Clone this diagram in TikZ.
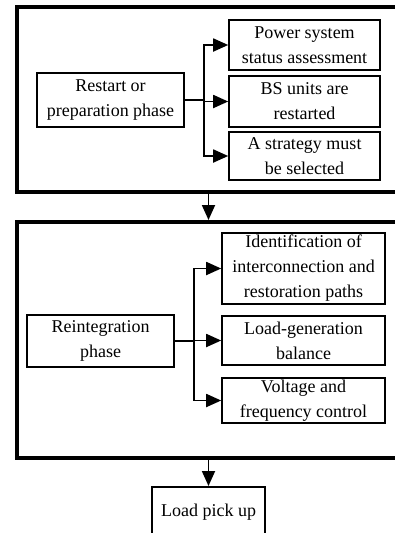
\documentclass[tikz,border=0pt]{standalone}
\usepackage{fontspec}
\setmainfont{Liberation Serif}
\usetikzlibrary{arrows.meta,positioning,calc}

\begin{document}
\begin{tikzpicture}[x=1pt, y=1pt,
    box/.style={draw, line width=1.6pt, inner sep=0pt, align=center,
        font=\fontsize{18}{25}\selectfont},
    frame/.style={draw, line width=3.6pt, inner sep=0pt},
    arr/.style={line width=1.8pt, -{Triangle[length=15pt, width=13pt]}},
    link/.style={line width=1.8pt}]
    \useasboundingbox (0,0) rectangle (395,-533);
    \clip (0,0) rectangle (395,-533);

    % Phase frames
    \node[frame, minimum width=395, minimum height=185, anchor=north west] (stageone) at (15,-5) {};
    \node[frame, minimum width=395, minimum height=236, anchor=north west] (stagetwo) at (15,-220) {};

    % Restart or preparation phase
    \node[box, minimum width=147, minimum height=54] (restart) at (110.5,-100) {Restart or\\preparation phase};
    \node[box, minimum width=151, minimum height=50] (assess) at (304.5,-45) {Power system\\status assessment};
    \node[box, minimum width=151, minimum height=51] (units) at (304.5,-101.5) {BS units are\\restarted};
    \node[box, minimum width=151, minimum height=48] (strategy) at (304.5,-156) {A strategy must\\be selected};

    % Reintegration phase
    \node[box, minimum width=147, minimum height=52] (reint) at (100.5,-341) {Reintegration\\phase};
    \node[box, minimum width=163, minimum height=71] (paths) at (303.5,-268.5) {Identification of\\interconnection and\\restoration paths};
    \node[box, minimum width=163, minimum height=49] (balance) at (303.5,-340.5) {Load-generation\\balance};
    \node[box, minimum width=163, minimum height=45] (control) at (303.5,-400.5) {Voltage and\\frequency control};

    % Load pick up
    \node[box, minimum width=113, minimum height=50, anchor=north] (pickup) at (208.5,-486) {Load pick up};

    % Branches
    \draw[link] (restart.east) -- ++(19,0) coordinate (splitone);
    \foreach \t in {assess, units, strategy}
        \draw[arr] (splitone) |- (\t.west);
    \draw[link] (reint.east) -- ++(19,0) coordinate (splittwo);
    \foreach \t in {paths, balance, control}
        \draw[arr] (splittwo) |- (\t.west);

    % Between phases
    \draw[arr] (stageone.south -| pickup.north) -- (stagetwo.north -| pickup.north);
    \draw[arr] (stagetwo.south -| pickup.north) -- (pickup.north);
\end{tikzpicture}
\end{document}
